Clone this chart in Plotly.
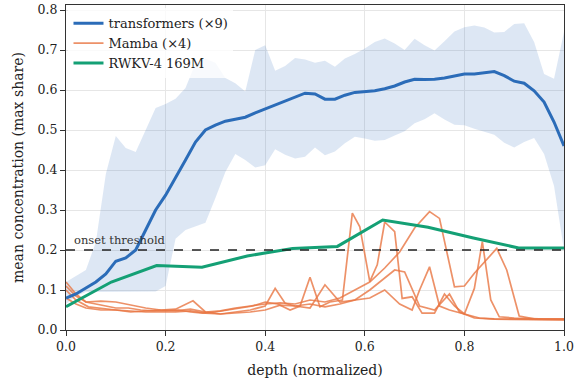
import numpy as np
import plotly.graph_objects as go

# ---------------- data ----------------
depth_grid = [round(i * 0.02, 2) for i in range(51)]

tf_mean = [0.080, 0.090, 0.105, 0.120, 0.140, 0.172, 0.180, 0.200, 0.250, 0.300,
           0.337, 0.380, 0.425, 0.470, 0.500, 0.512, 0.522, 0.527, 0.532, 0.543,
           0.553, 0.563, 0.572, 0.583, 0.592, 0.590, 0.577, 0.577, 0.587, 0.594,
           0.596, 0.598, 0.603, 0.610, 0.620, 0.627, 0.626, 0.627, 0.630, 0.635,
           0.640, 0.640, 0.643, 0.646, 0.636, 0.622, 0.617, 0.598, 0.570, 0.520,
           0.460]

tf_upper = [0.120, 0.135, 0.150, 0.220, 0.390, 0.485, 0.455, 0.445, 0.500, 0.555,
            0.565, 0.578, 0.605, 0.667, 0.678, 0.668, 0.630, 0.617, 0.596, 0.700,
            0.712, 0.648, 0.660, 0.680, 0.676, 0.668, 0.673, 0.658, 0.679, 0.690,
            0.704, 0.720, 0.729, 0.716, 0.700, 0.728, 0.712, 0.699, 0.722, 0.746,
            0.757, 0.761, 0.756, 0.744, 0.745, 0.765, 0.767, 0.720, 0.640, 0.628,
            0.745]

tf_lower = [0.065, 0.085, 0.095, 0.095, 0.095, 0.095, 0.095, 0.095, 0.095, 0.096,
            0.110, 0.228, 0.250, 0.260, 0.268, 0.330, 0.395, 0.440, 0.425, 0.406,
            0.412, 0.452, 0.438, 0.429, 0.433, 0.456, 0.437, 0.446, 0.467, 0.483,
            0.479, 0.473, 0.475, 0.486, 0.497, 0.517, 0.527, 0.542, 0.526, 0.513,
            0.512, 0.503, 0.496, 0.488, 0.468, 0.456, 0.470, 0.480, 0.440, 0.360,
            0.200]

rwkv_depth = [0.0, 0.091, 0.182, 0.273, 0.364, 0.455, 0.545, 0.636, 0.727, 0.818, 0.909, 1.0]
rwkv_vals = [0.058, 0.120, 0.161, 0.157, 0.185, 0.204, 0.209, 0.275, 0.257, 0.230, 0.205, 0.205]

mamba_a_depth = [0, 0.02, 0.04, 0.06, 0.08, 0.10, 0.125, 0.15, 0.175, 0.2, 0.225, 0.25, 0.275,
                 0.3, 0.325, 0.35, 0.375, 0.4, 0.425, 0.45, 0.47, 0.49, 0.51, 0.53, 0.555,
                 0.575, 0.59, 0.61, 0.625, 0.64, 0.66, 0.675, 0.695, 0.715, 0.74, 0.76,
                 0.78, 0.80, 0.83, 0.86, 0.9, 0.95, 1.0]
mamba_a_vals = [0.12, 0.09, 0.07, 0.065, 0.06, 0.055, 0.055, 0.05, 0.048, 0.048, 0.05, 0.045,
                0.042, 0.045, 0.05, 0.055, 0.06, 0.07, 0.065, 0.05, 0.06, 0.132, 0.058, 0.07,
                0.075, 0.292, 0.258, 0.121, 0.163, 0.27, 0.246, 0.079, 0.083, 0.042, 0.042,
                0.09, 0.06, 0.04, 0.03, 0.028, 0.027, 0.026, 0.026]

mamba_b_depth = [0, 0.02, 0.04, 0.07, 0.1, 0.13, 0.16, 0.19, 0.22, 0.25, 0.28, 0.31, 0.34,
                 0.37, 0.4, 0.43, 0.46, 0.49, 0.52, 0.55, 0.58, 0.61, 0.64, 0.67, 0.70,
                 0.73, 0.75, 0.78, 0.80, 0.82, 0.865, 0.885, 0.91, 0.94, 0.97, 1.0]
mamba_b_vals = [0.11, 0.085, 0.07, 0.072, 0.07, 0.062, 0.055, 0.05, 0.048, 0.052, 0.045,
                0.048, 0.055, 0.06, 0.065, 0.068, 0.065, 0.075, 0.07, 0.08, 0.1, 0.12,
                0.155, 0.195, 0.255, 0.296, 0.279, 0.108, 0.11, 0.142, 0.204, 0.15, 0.035,
                0.028, 0.027, 0.027]

mamba_c_depth = [0, 0.02, 0.045, 0.07, 0.1, 0.13, 0.16, 0.19, 0.22, 0.255, 0.28, 0.31, 0.34,
                 0.37, 0.4, 0.42, 0.44, 0.46, 0.49, 0.52, 0.55, 0.58, 0.61, 0.64, 0.67,
                 0.695, 0.71, 0.73, 0.75, 0.77, 0.80, 0.82, 0.836, 0.853, 0.87, 0.9, 0.95, 1.0]
mamba_c_vals = [0.10, 0.075, 0.058, 0.055, 0.05, 0.045, 0.048, 0.05, 0.052, 0.073, 0.045,
                0.04, 0.045, 0.05, 0.06, 0.104, 0.067, 0.06, 0.055, 0.113, 0.07, 0.075,
                0.08, 0.10, 0.065, 0.05, 0.10, 0.158, 0.06, 0.05, 0.04, 0.104, 0.221,
                0.075, 0.033, 0.03, 0.028, 0.028]

mamba_d_depth = [0, 0.02, 0.04, 0.07, 0.1, 0.13, 0.16, 0.19, 0.22, 0.25, 0.28, 0.31, 0.34,
                 0.37, 0.4, 0.43, 0.46, 0.49, 0.52, 0.55, 0.58, 0.61, 0.63, 0.66, 0.68,
                 0.71, 0.74, 0.77, 0.79, 0.82, 0.86, 0.9, 0.95, 1.0]
mamba_d_vals = [0.08, 0.065, 0.055, 0.05, 0.05, 0.048, 0.045, 0.045, 0.045, 0.048, 0.042,
                0.04, 0.042, 0.045, 0.05, 0.062, 0.06, 0.065, 0.058, 0.065, 0.075, 0.10,
                0.12, 0.15, 0.145, 0.06, 0.05, 0.09, 0.045, 0.03, 0.027, 0.026, 0.025, 0.025]

threshold = 0.2

# ---------------- styles ----------------
BLUE = "#2b6cb8"
ORANGE = "rgba(232,118,66,0.8)"
GREEN = "#14a075"
FONT = "DejaVu Serif"

fig = go.Figure()

# band
fig.add_trace(go.Scatter(x=depth_grid, y=tf_lower, mode="lines", line=dict(width=0),
                         showlegend=False, hoverinfo="skip"))
fig.add_trace(go.Scatter(x=depth_grid, y=tf_upper, mode="lines", line=dict(width=0),
                         fill="tonexty", fillcolor="rgba(43,108,184,0.16)",
                         showlegend=False, hoverinfo="skip"))

# mamba lines
mambas = [(mamba_a_depth, mamba_a_vals), (mamba_b_depth, mamba_b_vals),
          (mamba_c_depth, mamba_c_vals), (mamba_d_depth, mamba_d_vals)]
for i, (d, v) in enumerate(mambas):
    fig.add_trace(go.Scatter(x=d, y=v, mode="lines", line=dict(color=ORANGE, width=1.7),
                             name="Mamba (×4)", legendgroup="mamba",
                             showlegend=(i == 0), legendrank=2))

fig.add_trace(go.Scatter(x=depth_grid, y=tf_mean, mode="lines",
                         line=dict(color=BLUE, width=3), name="transformers (×9)",
                         legendrank=1))
fig.add_trace(go.Scatter(x=rwkv_depth, y=rwkv_vals, mode="lines",
                         line=dict(color=GREEN, width=3), name="RWKV-4 169M",
                         legendrank=3))

fig.add_shape(type="line", xref="x", yref="y", x0=0, x1=1, y0=threshold, y1=threshold,
              line=dict(color="#222222", width=1.4, dash="dash"), layer="above")
fig.add_annotation(x=0.012, y=threshold, xref="x", yref="y", text="onset threshold",
                   showarrow=False, xanchor="left", yanchor="bottom", yshift=1,
                   font=dict(family=FONT, size=11.5, color="#333333"))

axis_common = dict(showline=True, linecolor="#333333", linewidth=1, mirror=True,
                   showgrid=True, gridcolor="#e6e6e6", gridwidth=1, zeroline=False,
                   ticks="outside", ticklen=5, tickcolor="#333333", automargin=False,
                   tickfont=dict(family=FONT, size=12.5, color="#222222"))

fig.update_layout(
    width=574, height=381,
    margin=dict(l=66, r=10, t=5, b=51),
    plot_bgcolor="white", paper_bgcolor="white",
    font=dict(family=FONT, size=12, color="#222222"),
    legend=dict(x=0.005, y=0.99, xanchor="left", yanchor="top",
                bgcolor="rgba(255,255,255,0.8)", borderwidth=0,
                font=dict(family=FONT, size=13, color="#222222"),
                tracegroupgap=0, itemwidth=30),
    xaxis=dict(range=[0, 1], tickvals=[0, 0.2, 0.4, 0.6, 0.8, 1.0], tickformat=".1f",
               title=dict(text="depth (normalized)", font=dict(family=FONT, size=14),
                          standoff=12),
               **axis_common),
    yaxis=dict(range=[0, 0.8125], tickvals=[0, 0.1, 0.2, 0.3, 0.4, 0.5, 0.6, 0.7, 0.8],
               tickformat=".1f",
               title=dict(text="mean concentration (max share)", font=dict(family=FONT, size=14),
                          standoff=10),
               **axis_common),
)

fig.write_html("out.html")
